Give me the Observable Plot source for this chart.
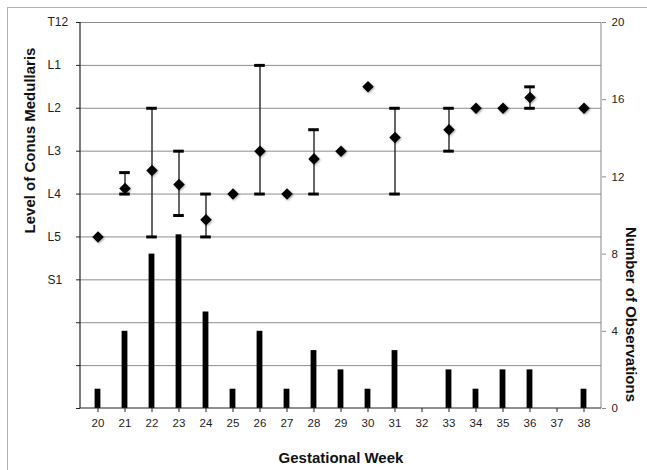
<!DOCTYPE html>
<html><head><meta charset="utf-8">
<script src="https://cdn.jsdelivr.net/npm/d3@7"></script>
<script src="https://cdn.jsdelivr.net/npm/@observablehq/plot@0.6"></script>
<style>
html,body{margin:0;padding:0;background:#fff;}
#wrap{position:relative;width:647px;height:470px;overflow:hidden;background:#fff;}
#frame{position:absolute;left:7px;top:7px;width:700px;height:520px;border-left:1px solid #b0b0b0;border-top:1px solid #b0b0b0;pointer-events:none;}
#chart svg{display:block;}
</style></head><body>
<div id="wrap"><div id="chart"></div><div id="frame"></div></div>
<script>
// Gestational weeks (x categories)
const weeks = [20,21,22,23,24,25,26,27,28,29,30,31,32,33,34,35,36,37,38];
// Number of observations per week (right axis)
const counts = [1,4,8,9,5,1,4,1,3,2,1,3,0,2,1,2,2,0,1];
// Mean level of conus medullaris (0 = T12, 1 = L1, ... 5 = L5, 6 = S1)
const meanLevel = [5,3.87,3.45,3.78,4.6,4,3,4,3.18,3,1.5,2.68,null,2.5,2,2,1.75,null,2];
// Range: highest level (upper whisker) and lowest level (lower whisker)
const rangeHigh = [null,3.5,2,3,4,null,1,null,2.5,null,null,2,null,2,null,null,1.5,null,null];
const rangeLow  = [null,4,5,4.5,5,null,4,null,4,null,null,4,null,3,null,null,2,null,null];
// Tick labels
const levelLabels = ["T12","L1","L2","L3","L4","L5","S1","","",""];
const countTicks = [0,4,8,12,16,20];

const LEVELS = 9, COUNT_MAX = 20;
const toLevel = c => LEVELS - c * LEVELS / COUNT_MAX;
const fromLevel = v => Math.round((LEVELS - v) * COUNT_MAX / LEVELS);

const rows = weeks.map((w, i) => ({week: String(w), count: counts[i], mean: meanLevel[i], hi: rangeHigh[i], lo: rangeLow[i]}));
const meanRows = rows.filter(d => d.mean != null);
const errRows = rows.filter(d => d.hi != null);
const levelIdx = d3.range(0, LEVELS + 1);

const chart = Plot.plot({
  width: 647, height: 470,
  marginLeft: 80, marginRight: 46, marginTop: 22, marginBottom: 62,
  style: {fontFamily: "'Liberation Sans', Arial, sans-serif", fontSize: "12px", color: "#222", background: "transparent"},
  x: {type: "band", domain: weeks.map(String), padding: 0},
  y: {domain: [0, LEVELS], reverse: true},
  marks: [
    Plot.ruleY(levelIdx.slice(0, LEVELS), {y: d => d, stroke: "#8c8c8c", strokeWidth: 1}),
    Plot.barY(rows, {x: "week", y1: () => LEVELS, y2: d => toLevel(d.count), fill: "#000", insetLeft: 10.6, insetRight: 10.6}),
    Plot.ruleX(errRows, {x: "week", y1: "hi", y2: "lo", stroke: "#333", strokeWidth: 1.5}),
    Plot.tickY(errRows, {x: "week", y: "hi", stroke: "#000", strokeWidth: 3, insetLeft: 8.2, insetRight: 8.2}),
    Plot.tickY(errRows, {x: "week", y: "lo", stroke: "#000", strokeWidth: 3, insetLeft: 8.2, insetRight: 8.2}),
    Plot.dot(meanRows, {x: "week", y: "mean", symbol: "diamond2", r: 5.2, fill: "#000", stroke: "none"}),
    // left axis ticks and left-aligned labels
    Plot.axisY({anchor: "left", ticks: levelIdx, tickSize: 4, tickFormat: () => "", label: null, stroke: "#222"}),
    Plot.text(levelIdx, {y: d => d, text: d => levelLabels[d], frameAnchor: "left", textAnchor: "start", dx: -33, fill: "#222", fontSize: 12}),
    // right axis (counts)
    Plot.axisY({anchor: "right", ticks: countTicks.map(toLevel), tickFormat: fromLevel, tickSize: 4, tickPadding: 6, label: null, stroke: "#888", fill: "#222", fontSize: 11.5}),
    // bottom axis
    Plot.axisX({tickSize: 4, tickPadding: 6, label: null, stroke: "#222", fill: "#222", fontSize: 11.5}),
    // axis titles
    Plot.text(["Gestational Week"], {frameAnchor: "bottom", dy: 50, textAnchor: "middle", lineAnchor: "middle", text: d => d, fontWeight: "bold", fontSize: 15, fill: "#111"}),
    Plot.text(["Level of Conus Medullaris"], {frameAnchor: "left", textAnchor: "middle", lineAnchor: "middle", dx: -50, dy: -75, rotate: -90, text: d => d, fontWeight: "bold", fontSize: 15, fill: "#111"}),
    Plot.text(["Number of Observations"], {frameAnchor: "right", textAnchor: "middle", lineAnchor: "middle", dx: 29, dy: 99, rotate: 90, text: d => d, fontWeight: "bold", fontSize: 15, fill: "#111"})
  ]
});

// axis lines derived from the plot's scales
const xr = chart.scale("x").range, yr = chart.scale("y").range;
const svg = d3.select(chart);
const g = svg.append("g");
g.append("line").attr("x1", xr[0]).attr("x2", xr[0]).attr("y1", yr[0]).attr("y2", yr[1]).attr("stroke", "#222").attr("stroke-width", 1.2);
g.append("line").attr("x1", xr[1]).attr("x2", xr[1]).attr("y1", yr[0]).attr("y2", yr[1]).attr("stroke", "#888").attr("stroke-width", 1);
g.append("line").attr("x1", xr[0]).attr("x2", xr[1]).attr("y1", Math.max(...yr)).attr("y2", Math.max(...yr)).attr("stroke", "#222").attr("stroke-width", 1.2);
svg.selectAll("g[aria-label='dot'] path").style("filter", "drop-shadow(1px 1px 1px rgba(0,0,0,0.35))");
document.getElementById("chart").appendChild(chart);
</script>
</body></html>
